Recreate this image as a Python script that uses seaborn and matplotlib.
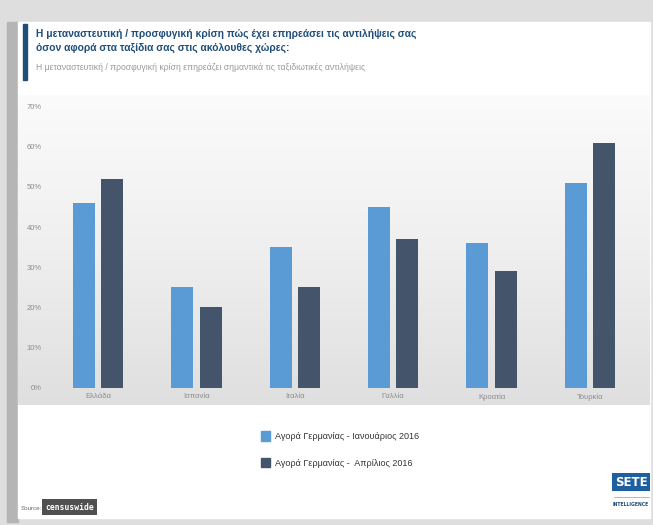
import matplotlib
matplotlib.use("Agg")
import matplotlib.pyplot as plt
import matplotlib.patches as mpatches
import seaborn as sns
import pandas as pd
import numpy as np

countries = ["Ελλάδα", "Ισπανία", "Ιταλία", "Γαλλία", "Κροατία", "Τουρκία"]
jan_2016 = [46, 25, 35, 45, 36, 51]
apr_2016 = [52, 20, 25, 37, 29, 61]
series_names = ["Αγορά Γερμανίας - Ιανουάριος 2016", "Αγορά Γερμανίας -  Απρίλιος 2016"]
y_ticks = [0, 10, 20, 30, 40, 50, 60, 70]

df = pd.DataFrame({
    "country": countries * 2,
    "pct": jan_2016 + apr_2016,
    "series": [series_names[0]] * len(countries) + [series_names[1]] * len(countries),
})

sns.set_style("white")
plt.rcParams['font.family'] = ['Liberation Sans', 'DejaVu Sans']

W, H = 653, 525
fig = plt.figure(figsize=(W / 100, H / 100), dpi=100)
fig.patch.set_facecolor("#dedede")

def fx(px):
    return px / W

def fy(py):
    return 1 - py / H

# frame / panel
fig.patches.append(mpatches.Rectangle((fx(7), fy(522)), fx(11), 500 / H, transform=fig.transFigure,
                                      color="#b5b5b5", zorder=-2))
fig.patches.append(mpatches.Rectangle((fx(18), fy(518)), fx(632), 496 / H, transform=fig.transFigure,
                                      color="white", zorder=-2))
# title accent bar
fig.patches.append(mpatches.Rectangle((fx(23), fy(80)), fx(4), 56 / H, transform=fig.transFigure,
                                      color="#1f4e79", zorder=1))

# gradient chart background
bg = fig.add_axes([fx(18), fy(405), fx(632), 310 / H], zorder=0)
grad = np.linspace(0, 1, 256).reshape(-1, 1)
bg.imshow(grad, aspect="auto", cmap=matplotlib.colors.LinearSegmentedColormap.from_list(
    "g", ["#fbfbfb", "#efefef", "#dfdfdf"]), extent=[0, 1, 0, 1])
bg.axis("off")

ax = fig.add_axes([fx(48.8), fy(387.7), fx(590.4), 281.2 / H], zorder=1)
ax.patch.set_alpha(0)
sns.barplot(data=df, x="country", y="pct", hue="series", order=countries,
            palette=["#5b9bd5", "#44546a"], width=0.577, gap=0.225,
            saturation=1, ax=ax, legend=False, edgecolor="none")
ax.set_ylim(0, 70)
ax.set_xlim(-0.5, 5.5)
ax.set_yticks(y_ticks)
ax.set_yticklabels([f"{t}%" for t in y_ticks])
ax.set_xlabel("")
ax.set_ylabel("")
ax.tick_params(axis="both", length=0, labelsize=5.5, labelcolor="#8c8c8c")
ax.tick_params(axis="y", pad=5)
ax.tick_params(axis="x", pad=4)
sns.despine(ax=ax, left=True, bottom=True)

# legend
handles = [mpatches.Patch(color=c) for c in ["#5b9bd5", "#44546a"]]
fig.legend(handles, series_names, loc="center", bbox_to_anchor=(fx(340), fy(449.5)),
           frameon=False, fontsize=6.5, handlelength=1.0, handleheight=1.2,
           labelspacing=1.9, handletextpad=0.6, labelcolor="#333333")

# titles
fig.text(fx(36), fy(34), "Η μεταναστευτική / προσφυγική κρίση πώς έχει επηρεάσει τις αντιλήψεις σας",
         fontsize=7.4, fontweight="bold", color="#1f4e79", va="center")
fig.text(fx(36), fy(48), "όσον αφορά στα ταξίδια σας στις ακόλουθες χώρες:",
         fontsize=7.4, fontweight="bold", color="#1f4e79", va="center")
fig.text(fx(36), fy(67), "Η μεταναστευτική / προσφυγική κρίση επηρεάζει σημαντικά τις ταξιδιωτικές αντιλήψεις",
         fontsize=6.2, color="#9a9a9a", va="center")

# source
fig.text(fx(21), fy(508), "Source:", fontsize=4.5, color="#666666", va="center")
fig.text(fx(45), fy(507), "censuswide", fontsize=5.8, color="white", va="center",
         family="DejaVu Sans Mono", fontweight="bold",
         bbox=dict(boxstyle="square,pad=0.4", fc="#505050", ec="none"))

# SETE logo
fig.text(fx(631), fy(482), "SETE", fontsize=8.5, fontweight="bold", color="white",
         ha="center", va="center", family="DejaVu Sans",
         bbox=dict(boxstyle="square,pad=0.25", fc="#1f5fa0", ec="none"))
fig.lines.append(plt.Line2D([fx(614), fx(649)], [fy(497), fy(497)], transform=fig.transFigure,
                            color="#9ab0c8", lw=0.6))
fig.text(fx(631), fy(505), "INTELLIGENCE", fontsize=3.3, fontweight="bold", color="#1f4e79",
         ha="center", va="center", family="DejaVu Sans")

fig.savefig("out.png", dpi=100, facecolor=fig.get_facecolor())
